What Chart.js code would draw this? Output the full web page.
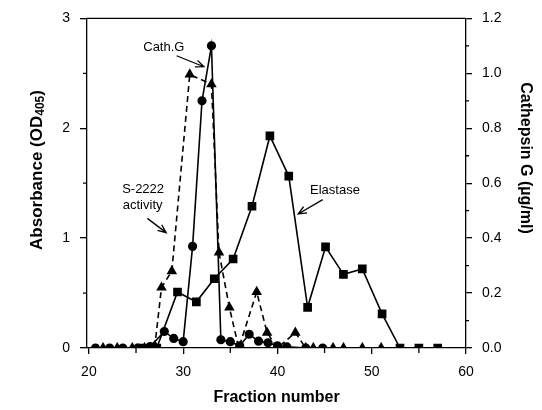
<!DOCTYPE html>
<html>
<head>
<meta charset="utf-8">
<script src="https://cdn.jsdelivr.net/npm/chart.js@4.4.1/dist/chart.umd.min.js"></script>
<style>
  html, body { margin: 0; padding: 0; background: #fff; }
  #wrap { width: 542px; height: 410px; }
</style>
</head>
<body>
<div id="wrap"><canvas id="chart"></canvas></div>
<script>
// ── Data ─────────────────────────────────────────────────────

// Elastase (squares, solid) – absorbance OD405
const elastaseX = [25.4, 27.2, 29.4, 31.4, 33.3, 35.3, 37.3, 39.2, 41.2, 43.2, 45.1, 47.0, 49.0, 51.1, 53.0, 55.0, 57.0];
const elastaseOD = [0, 0, 0.51, 0.42, 0.63, 0.81, 1.29, 1.93, 1.565, 0.37, 0.92, 0.67, 0.72, 0.31, 0, 0, 0];

// Cathepsin G (circles, solid) – µg/ml, right axis
const cathX = [20.7, 22.2, 23.6, 25.2, 26.5, 28, 29, 30, 31, 32, 33, 34, 35, 36, 37, 38, 39, 40, 41, 43, 44.8];
const cathG = [0, 0, 0, 0, 0.005, 0.06, 0.035, 0.023, 0.37, 0.90, 1.10, 0.03, 0.023, 0.008, 0.05, 0.025, 0.019, 0.008, 0.004, 0, 0];

// S-2222 activity (triangles, dashed) – absorbance OD405
const s2222X = [21.5, 23.0, 24.6, 25.9, 27.0, 27.7, 28.8, 30.7, 33.0, 33.8, 34.9, 35.9, 37.8, 38.9, 40.0, 41.9, 43.0, 43.8, 45.9, 47.0, 49.0, 51.0];
const s2222OD = [0, 0, 0, 0, 0.02, 0.55, 0.70, 2.49, 2.40, 0.87, 0.37, 0, 0.51, 0.14, 0, 0.14, 0, 0, 0, 0, 0, 0];

// Axis ticks
const xTicks = [20, 30, 40, 50, 60];
const xMinor = [25, 35, 45, 55];
const odTicks = [0, 1, 2, 3];
const odMinor = [0.5, 1.5, 2.5];
const cathTicks = [0, 0.2, 0.4, 0.6, 0.8, 1.0, 1.2];
const cathMinor = [0.1, 0.3, 0.5, 0.7, 0.9, 1.1];

const FONT = '"Liberation Sans", Arial, Helvetica, sans-serif';

const toPoints = (xs, ys) => xs.map((x, i) => ({ x, y: ys[i] }));
const setTicks = (values) => (scale) => { scale.ticks = values.map(v => ({ value: v })); };

// ── Frame, minor ticks, axis titles, annotations ─────────────
const decorPlugin = {
  id: 'decor',
  afterDraw(chart) {
    const { ctx, chartArea: a, scales } = chart;
    const x = scales.x, od = scales.yOD, cg = scales.yCath;
    ctx.save();
    ctx.strokeStyle = '#000';
    ctx.fillStyle = '#000';
    ctx.lineWidth = 1.3;

    // top frame line
    ctx.beginPath();
    ctx.moveTo(a.left, a.top);
    ctx.lineTo(a.right, a.top);
    ctx.stroke();

    // minor ticks
    ctx.beginPath();
    for (const v of xMinor) {
      const px = x.getPixelForValue(v);
      ctx.moveTo(px, a.bottom); ctx.lineTo(px, a.bottom + 5);
    }
    for (const v of odMinor) {
      const py = od.getPixelForValue(v);
      ctx.moveTo(a.left, py); ctx.lineTo(a.left - 4, py);
    }
    for (const v of cathMinor) {
      const py = cg.getPixelForValue(v);
      ctx.moveTo(a.right, py); ctx.lineTo(a.right + 3, py);
    }
    ctx.stroke();

    // left title with subscript
    ctx.save();
    ctx.translate(37, 170);
    ctx.rotate(-Math.PI / 2);
    ctx.textBaseline = 'middle';
    const big = 'bold 17px ' + FONT, small = 'bold 12px ' + FONT;
    ctx.font = big;
    const w1 = ctx.measureText('Absorbance (OD').width;
    const w3 = ctx.measureText(')').width;
    ctx.font = small;
    const w2 = ctx.measureText('405').width;
    const cx = -(w1 + w2 + w3) / 2;
    ctx.textAlign = 'left';
    ctx.font = big;
    ctx.fillText('Absorbance (OD', cx, 0);
    ctx.font = small;
    ctx.fillText('405', cx + w1, 4);
    ctx.font = big;
    ctx.fillText(')', cx + w1 + w2, 0);
    ctx.restore();

    // right title
    ctx.save();
    ctx.translate(525, 158);
    ctx.rotate(Math.PI / 2);
    ctx.font = 'bold 16px ' + FONT;
    ctx.textAlign = 'center';
    ctx.textBaseline = 'middle';
    ctx.fillText('Cathepsin G (\u00b5g/ml)', 0, 0);
    ctx.restore();

    // annotations (positioned in data units)
    ctx.font = '13px ' + FONT;
    ctx.textAlign = 'center';
    ctx.textBaseline = 'middle';
    const P = (fx, v) => [x.getPixelForValue(fx), od.getPixelForValue(v)];
    const label = (t, fx, v) => { const [px, py] = P(fx, v); ctx.fillText(t, px, py); };
    const arrow = (f0, v0, f1, v1) => {
      const [x0, y0] = P(f0, v0), [x1, y1] = P(f1, v1);
      const ang = Math.atan2(y1 - y0, x1 - x0), h = 9;
      ctx.beginPath();
      ctx.moveTo(x0, y0); ctx.lineTo(x1, y1);
      ctx.moveTo(x1 - h * Math.cos(ang - 0.4), y1 - h * Math.sin(ang - 0.4));
      ctx.lineTo(x1, y1);
      ctx.lineTo(x1 - h * Math.cos(ang + 0.4), y1 - h * Math.sin(ang + 0.4));
      ctx.stroke();
    };
    ctx.lineWidth = 1.3;
    label('Cath.G', 27.95, 2.74);
    arrow(29.3, 2.66, 32.2, 2.56);
    label('Elastase', 46.1, 1.43);
    arrow(44.8, 1.35, 42.2, 1.22);
    label('S-2222', 25.75, 1.44);
    label('activity', 25.7, 1.30);
    arrow(26.2, 1.18, 28.2, 1.05);

    ctx.restore();
  },
};

const ctx = document.getElementById('chart').getContext('2d');
const chart = new Chart(ctx, {
  type: 'line',
  data: {
    datasets: [
      {
        label: 'Elastase',
        data: toPoints(elastaseX, elastaseOD),
        yAxisID: 'yOD',
        borderColor: '#000',
        backgroundColor: '#000',
        borderWidth: 1.6,
        pointStyle: 'rect',
        pointRadius: 5,
        tension: 0,
      },
      {
        label: 'Cath.G',
        data: toPoints(cathX, cathG),
        yAxisID: 'yCath',
        borderColor: '#000',
        backgroundColor: '#000',
        borderWidth: 1.6,
        pointStyle: 'circle',
        pointRadius: 3.8,
        tension: 0,
      },
      {
        label: 'S-2222 activity',
        data: toPoints(s2222X, s2222OD),
        yAxisID: 'yOD',
        borderColor: '#000',
        backgroundColor: '#000',
        borderWidth: 1.6,
        borderDash: [6, 4],
        pointStyle: 'triangle',
        pointRadius: 4.5,
        tension: 0,
      },
    ],
  },
  options: {
    responsive: true,
    maintainAspectRatio: false,
    animation: false,
    events: [],
    layout: { padding: { top: 15, left: 0, right: 0, bottom: 0 } },
    plugins: { legend: { display: false }, tooltip: { enabled: false } },
    scales: {
      x: {
        type: 'linear',
        min: 19.8,
        max: 60,
        afterBuildTicks: setTicks(xTicks),
        afterFit: (s) => { s.height = 62; },
        border: { display: true, color: '#000', width: 1.3 },
        grid: { drawOnChartArea: false, drawTicks: true, tickLength: 6, color: '#000', lineWidth: 1.3 },
        ticks: { color: '#000', font: { family: FONT, size: 14 }, padding: 10, maxRotation: 0 },
        title: {
          display: true,
          text: 'Fraction number',
          color: '#000',
          font: { family: FONT, size: 16, weight: 'bold' },
          padding: { top: 0, bottom: 3 },
        },
      },
      yOD: {
        type: 'linear',
        position: 'left',
        min: 0,
        max: 3,
        afterBuildTicks: setTicks(odTicks),
        afterFit: (s) => { s.width = 87; },
        border: { display: true, color: '#000', width: 1.3 },
        grid: { drawOnChartArea: false, drawTicks: true, tickLength: 7, color: '#000', lineWidth: 1.3 },
        ticks: { color: '#000', font: { family: FONT, size: 14 }, padding: 10 },
      },
      yCath: {
        type: 'linear',
        position: 'right',
        min: 0,
        max: 1.2,
        afterBuildTicks: setTicks(cathTicks),
        afterFit: (s) => { s.width = 76; },
        border: { display: true, color: '#000', width: 1.3 },
        grid: { drawOnChartArea: false, drawTicks: true, tickLength: 6, color: '#000', lineWidth: 1.3 },
        ticks: {
          color: '#000',
          font: { family: FONT, size: 14 },
          padding: 10,
          callback: (v) => Number(v).toFixed(1),
        },
      },
    },
  },
  plugins: [decorPlugin],
});
</script>
</body>
</html>
